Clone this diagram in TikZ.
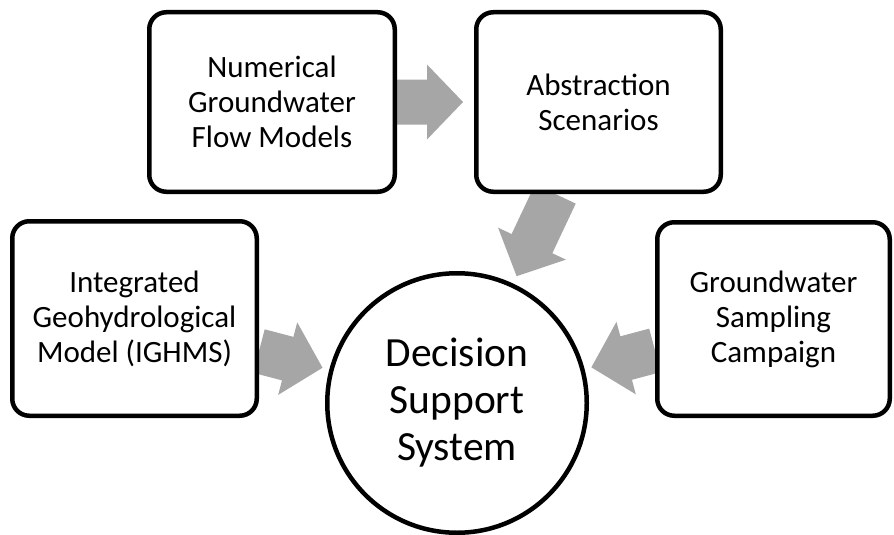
\documentclass[tikz,border=0pt]{standalone}
\usepackage{fontspec}
\setmainfont{Carlito}
\usetikzlibrary{calc,backgrounds}
\definecolor{arrowgray}{RGB}{166,166,166}
\newcommand{\blockarrow}[3]{%
  \path let \p1=(#1), \p2=(#2),
    \n1={atan2(\y2-\y1,\x2-\x1)},
    \n2={veclen(\x2-\x1,\y2-\y1)-#3} in
    \pgfextra{\xdef\baAng{\n1}\xdef\baLen{\n2}};
  \fill[arrowgray, shift={(#1)}, rotate=\baAng]
    (0pt,-22.5pt) -- ({\baLen*1pt-36pt},-22.5pt) -- ({\baLen*1pt-36pt},-37.5pt)
    -- ({\baLen*1pt},0pt) -- ({\baLen*1pt-36pt},37.5pt) -- ({\baLen*1pt-36pt},22.5pt)
    -- (0pt,22.5pt) -- cycle;
}
\tikzset{
  boxnode/.style={draw=black, fill=white, line width=4.5pt, rounded corners=17pt,
    inner sep=0pt, align=center, font=\fontsize{31}{35}\selectfont},
  hubnode/.style={draw=black, fill=white, line width=4.5pt, circle, inner sep=0pt,
    minimum size=259.5pt, align=center, font=\fontsize{41.5}{47}\selectfont},
}
\begin{document}
\begin{tikzpicture}[x=1pt,y=-1pt]
\useasboundingbox (0,0) rectangle (894,535);
\node[boxnode, minimum width=245.5pt, minimum height=179.5pt] (num) at (272,102)
  {Numerical\\Groundwater\\Flow Models};
\node[boxnode, minimum width=244.5pt, minimum height=179.5pt] (abs) at (598.5,102)
  {Abstraction\\Scenarios};
\node[boxnode, minimum width=244.5pt, minimum height=194.5pt] (integ) at (134.5,318.5)
  {Integrated\\Geohydrological\\Model (IGHMS)};
\node[boxnode, minimum width=232.5pt, minimum height=193.5pt] (gw) at (773.5,319)
  {Groundwater\\Sampling\\Campaign};
\node[hubnode] (dss) at (457,403) {Decision\\Support\\System};
\path (num) -- (abs) coordinate[pos=0] (a1s) coordinate[pos=1] (a1e);
\path (abs) -- (dss) coordinate[pos=0] (a2s) coordinate[pos=1] (a2e);
\path (integ) -- (dss) coordinate[pos=0] (a3s) coordinate[pos=1] (a3e);
\path (gw) -- (dss) coordinate[pos=0] (a4s) coordinate[pos=1] (a4e);
\begin{scope}[on background layer]
\blockarrow{a1s}{a1e}{11}
\blockarrow{a2s}{a2e}{8}
\blockarrow{a3s}{a3e}{7}
\blockarrow{a4s}{a4e}{7}
\end{scope}
\end{tikzpicture}
\end{document}
